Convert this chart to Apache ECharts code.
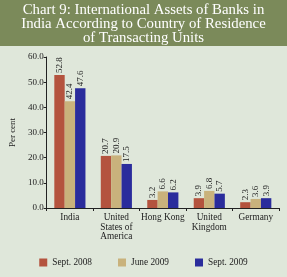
<!DOCTYPE html>
<html><head><meta charset="utf-8">
<script src="https://cdn.jsdelivr.net/npm/echarts@6/dist/echarts.min.js"></script>
<style>html,body{margin:0;padding:0;background:#dfe7da;}#c{width:287px;height:277px;}</style>
</head><body><div id="c"></div>
<script>
const categories = ['India', 'United\nStates of\nAmerica', 'Hong Kong', 'United\nKingdom', 'Germany'];
const sept2008 = [52.8, 20.7, 3.2, 3.9, 2.3];
const june2009 = [42.4, 20.9, 6.6, 6.8, 3.6];
const sept2009 = [47.6, 17.5, 6.2, 5.7, 3.9];
const seriesNames = ['Sept. 2008', 'June 2009', 'Sept. 2009'];
const colors = ['#b4533e', '#c9b27c', '#2a2c9c'];
const serif = '"Liberation Serif", "DejaVu Serif", serif';

const chart = echarts.init(document.getElementById('c'), null, {renderer: 'canvas'});
const mk = (name, data, i) => ({
  name, type: 'bar', data, barGap: '0%', barCategoryGap: '33%',
  itemStyle: {color: colors[i]},
  label: {show: true, position: 'top', rotate: 90, align: 'left', verticalAlign: 'middle',
    distance: 2, fontFamily: serif, fontSize: 9, color: '#222',
    formatter: p => p.value.toFixed(1)}
});
chart.setOption({
  backgroundColor: '#dfe7da',
  animation: false,
  graphic: [{type: 'rect', shape: {x: 0, y: 0, width: 287, height: 46}, style: {fill: '#7b8a5a'}, z: 0}],
  title: {text: 'Chart 9: International Assets of Banks in\nIndia According to Country of Residence\nof Transacting Units',
    left: 'center', top: 3, padding: 0,
    textStyle: {color: '#fff', fontFamily: serif, fontSize: 14.8, fontWeight: 'normal', lineHeight: 14, align: 'center'}},
  grid: {left: 42, right: 8, top: 57, bottom: 69},
  legend: {bottom: 5, left: 'center', itemWidth: 8, itemHeight: 8, itemGap: 26,
    icon: 'rect', textStyle: {fontFamily: serif, fontSize: 9.3, color: '#222'}, data: seriesNames},
  xAxis: {type: 'category', data: categories,
    axisLine: {lineStyle: {color: '#222'}},
    axisTick: {show: true, length: 3, lineStyle: {color: '#222'}},
    axisLabel: {fontFamily: serif, fontSize: 9.3, color: '#222', lineHeight: 9.5, margin: 5, interval: 0}},
  yAxis: {type: 'value', min: 0, max: 60, interval: 10,
    name: 'Per cent', nameLocation: 'middle', nameGap: 26, nameRotate: 90,
    nameTextStyle: {fontFamily: serif, fontSize: 9, color: '#222'},
    axisLine: {show: true, lineStyle: {color: '#222'}},
    axisTick: {show: true, length: 3, lineStyle: {color: '#222'}},
    splitLine: {show: false},
    axisLabel: {fontFamily: serif, fontSize: 9, color: '#222', margin: 3, formatter: v => v.toFixed(1)}},
  series: [mk(seriesNames[0], sept2008, 0), mk(seriesNames[1], june2009, 1), mk(seriesNames[2], sept2009, 2)]
});
</script></body></html>
